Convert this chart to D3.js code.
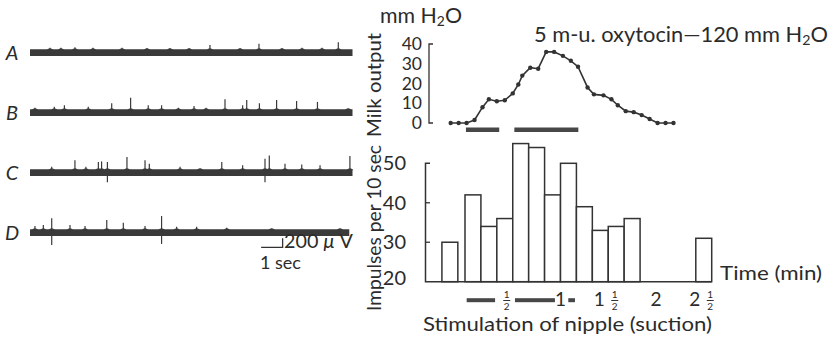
<!DOCTYPE html>
<html>
<head>
<meta charset="utf-8">
<script src="https://cdn.jsdelivr.net/npm/d3@7"></script>
<style>
  html, body { margin: 0; padding: 0; background: #fff; }
  svg { display: block; }
  text { font-family: Lato, "Open Sans", sans-serif; fill: #2b2b2b; }
</style>
</head>
<body>
<svg id="chart" width="833" height="339"></svg>
<script>
// ---------------- DATA ----------------
// Nerve recordings A-D: spikes as [time (s), upward amplitude (µV), downward amplitude (µV)]
const traceNames = ["A", "B", "C", "D"];
const traceDuration = [15, 15, 15, 14.85];
const spikesA = [[0.93,110,0],[1.44,110,0],[2.09,120,0],[2.93,110,0],[4.28,110,0],[5.44,100,0],[6.51,100,0],
  [7.40,100,0],[8.37,170,0],[9.77,100,0],[10.65,200,0],[11.72,100,0],[12.65,110,0],[13.58,110,0],[14.34,230,0]];
const spikesB = [[0.23,110,0],[1.13,135,0],[1.60,165,0],[2.71,135,0],[3.80,210,0],[4.68,335,0],[5.50,165,0],
  [6.12,165,0],[6.90,110,0],[7.63,150,0],[8.19,110,0],[9.07,300,0],[9.89,165,0],[10.08,285,0],[10.67,210,0],
  [11.47,285,0],[12.40,260,0],[13.37,240,0],[14.80,90,0]];
const spikesC = [[1.01,130,0],[2.09,275,0],[2.60,130,0],[3.18,240,0],[3.33,250,0],[3.60,240,210],[4.51,350,0],
  [5.35,275,0],[5.55,200,0],[6.98,130,0],[7.91,90,0],[8.92,240,0],[9.89,165,0],[10.93,310,210],[11.13,385,0],
  [11.86,200,0],[12.64,180,0],[13.49,165,0],[14.88,370,0]];
const spikesD = [[0.23,150,0],[0.62,170,0],[1.01,320,275],[1.86,170,0],[2.56,150,0],[3.57,285,0],[4.34,220,0],
  [5.35,150,0],[6.12,370,250],[6.82,130,0],[7.75,130,0],[9.15,110,0],[11.24,90,0],[14.42,90,0]];
const traceSpikes = [spikesA, spikesB, spikesC, spikesD];

// Milk output (mm H2O) vs time (s)
const milkTime  = [-9,-4,1,6,11,15,20,25,30,33.5,36,41,46,51,56,61.5,66.5,71,77,81,87,92,96,101,106,111,116,121,126,131];
const milkValue = [0,0,0,1.5,8,12,11,11.5,15,19.5,24,28,27.5,36,36,34,31.5,28.5,18,14.5,14,12,9,6,5.5,4,2,0,0,0];
const milkTicks = [0, 10, 20, 30, 40];

// Impulses per 10 sec histogram: bin start (s), count
const binStart = [-14.5,0,10,20,30,40,50,60,70,80,90,100,145];
const impulses = [30,42,34,36,55,54,42,50,39,33,34,36,31];
const binWidth = 10;
const impulseTicks = [20, 30, 40, 50];
const timeTicks = [0.5, 1, 1.5, 2, 2.5]; // minutes

// Stimulation (suction) periods, seconds
const stimTop = [[0.6, 21.5], [31, 71.2]];
const stimBottom = [[1.05, 18.9], [31.4, 56.5], [64.9, 69.1]];

// ---------------- DRAW ----------------
const svg = d3.select("#chart");
const ink = "#333";

const x = d3.scaleLinear().domain([0, 60]).range([465, 560.5]);
const yMilk = d3.scaleLinear().domain([0, 40]).range([123, 44]);
const yImp = d3.scaleLinear().domain([20, 50]).range([281.7, 163.3]);

function fitLen(sel, w) {
  sel.attr("textLength", w).attr("lengthAdjust", "spacingAndGlyphs");
}
function fitSize(sel, w) {
  const n = sel.node();
  const bw = n.getBBox().width;
  const fs = parseFloat(n.getAttribute("font-size"));
  if (bw > 0) n.setAttribute("font-size", (fs * w / bw).toFixed(2));
}

// ----- Left: traces -----
const xTr = d3.scaleLinear().domain([0, 15]).range([30, 352.5]);
const rowY = d3.scalePoint().domain(traceNames).range([52.7, 232.7]);
const amp = d3.scaleLinear().domain([0, 200]).range([0, 9]);

traceNames.forEach((name, i) => {
  const g = svg.append("g");
  const cy = rowY(name);
  g.append("line")
    .attr("x1", xTr(0)).attr("x2", xTr(traceDuration[i]))
    .attr("y1", cy).attr("y2", cy)
    .attr("stroke", "#3a3a3a").attr("stroke-width", 6.8);
  g.selectAll("line.sp").data(traceSpikes[i]).join("line")
    .attr("class", "sp")
    .attr("x1", d => xTr(d[0])).attr("x2", d => xTr(d[0]))
    .attr("y1", d => cy + Math.max(amp(d[2]), 3))
    .attr("y2", d => cy - amp(d[1]))
    .attr("stroke", "#3a3a3a").attr("stroke-width", 1.2);
  g.selectAll("path.bump").data(traceSpikes[i]).join("path")
    .attr("class", "bump")
    .attr("d", d => { const px = xTr(d[0]); return `M${px-3.5},${cy-2.5} Q${px},${cy-6.5} ${px+3.5},${cy-2.5} Z`; })
    .attr("fill", "#3a3a3a");
  g.append("text")
    .attr("x", 12).attr("y", cy + 7.5)
    .attr("text-anchor", "middle")
    .attr("font-size", 20).attr("font-style", "italic")
    .text(name);
});

// scale bar
svg.append("path")
  .attr("d", `M${xTr(10.75)},247.3 H${xTr(11.75)} V${247.3 - amp(200)}`)
  .attr("fill", "none").attr("stroke", ink).attr("stroke-width", 1.3);
const sbt = svg.append("text").attr("x", 284).attr("y", 248).attr("font-size", 16);
sbt.append("tspan").text("200 ");
sbt.append("tspan").attr("font-style", "italic").text("μ");
sbt.append("tspan").text(" V");
fitSize(sbt, 69);
svg.append("text").attr("x", 260).attr("y", 268.5).attr("font-size", 18).text("1 sec");

// ----- Top right: milk output -----
const gTop = svg.append("g");
gTop.append("path")
  .attr("d", `M433,${yMilk(40)} H429 V${yMilk(0)} H433`)
  .attr("fill", "none").attr("stroke", ink).attr("stroke-width", 1.3);
gTop.selectAll("text.mt").data(milkTicks).join("text")
  .attr("class", "mt")
  .attr("x", 422).attr("y", d => yMilk(d) + 6)
  .attr("text-anchor", "end").attr("font-size", 17.5)
  .text(d => d);

const milkPts = milkTime.map((t, i) => [t, milkValue[i]]);
gTop.append("path")
  .datum(milkPts)
  .attr("d", d3.line().x(d => x(d[0])).y(d => yMilk(d[1])))
  .attr("fill", "none").attr("stroke", ink).attr("stroke-width", 1.6);
gTop.selectAll("circle").data(milkPts).join("circle")
  .attr("cx", d => x(d[0])).attr("cy", d => yMilk(d[1]))
  .attr("r", 2.2).attr("fill", ink);

gTop.selectAll("rect.stim").data(stimTop).join("rect")
  .attr("class", "stim")
  .attr("x", d => x(d[0])).attr("width", d => x(d[1]) - x(d[0]))
  .attr("y", 127.5).attr("height", 4.5)
  .attr("fill", "#474747");

const mmh = svg.append("text").attr("x", 380).attr("y", 23).attr("font-size", 18);
mmh.append("tspan").text("mm H");
mmh.append("tspan").attr("font-size", "0.65em").attr("dy", 3).text("2");
mmh.append("tspan").attr("dy", -3).text("O");
fitSize(mmh, 82);

const oxy = svg.append("text").attr("x", 534).attr("y", 42).attr("font-size", 18);
oxy.append("tspan").text("5 m-u. oxytocin\u2014120 mm H");
oxy.append("tspan").attr("font-size", "0.65em").attr("dy", 3).text("2");
oxy.append("tspan").attr("dy", -3).text("O");
fitSize(oxy, 294);

// ----- Bottom right: histogram -----
const gH = svg.append("g");
gH.selectAll("rect.bar").data(binStart.map((s, i) => [s, impulses[i]])).join("rect")
  .attr("class", "bar")
  .attr("x", d => x(d[0])).attr("width", d => x(d[0] + binWidth) - x(d[0]))
  .attr("y", d => yImp(d[1])).attr("height", d => yImp(20) - yImp(d[1]))
  .attr("fill", "#fff").attr("stroke", ink).attr("stroke-width", 1.5);

gH.append("path")
  .attr("d", `M430,${yImp(50)} H425.5 V${yImp(20)} H${x(binStart[binStart.length - 1] + binWidth)}`)
  .attr("fill", "none").attr("stroke", ink).attr("stroke-width", 1.5);
gH.selectAll("line.it").data(impulseTicks.filter(d => d > 20 && d < 50)).join("line")
  .attr("class", "it")
  .attr("x1", 425.5).attr("x2", 430).attr("y1", d => yImp(d)).attr("y2", d => yImp(d))
  .attr("stroke", ink).attr("stroke-width", 1.3);
gH.selectAll("text.il").data(impulseTicks).join("text")
  .attr("class", "il")
  .attr("x", 406).attr("y", d => yImp(d) + 7 - (d === 20 ? 4 : 0))
  .attr("text-anchor", "end").attr("font-size", 20)
  .text(d => d);

gH.selectAll("rect.stim").data(stimBottom).join("rect")
  .attr("class", "stim")
  .attr("x", d => x(d[0])).attr("width", d => x(d[1]) - x(d[0]))
  .attr("y", 298.2).attr("height", 4)
  .attr("fill", "#474747");

// time tick labels with stacked fractions
timeTicks.forEach(v => {
  const cx = x(v * 60);
  const whole = Math.floor(v);
  const half = v - whole > 0;
  const g = gH.append("g");
  if (!half) {
    g.append("text").attr("x", cx).attr("y", 305.5).attr("text-anchor", "middle")
      .attr("font-size", 19).text(whole);
    return;
  }
  let fx;
  if (whole > 0) {
    g.append("text").attr("x", cx - 3.5).attr("y", 305.5).attr("text-anchor", "end")
      .attr("font-size", 19).text(whole);
    fx = cx + 6.5;
  } else {
    fx = cx - 6;
  }
  const fr = g.append("text").attr("text-anchor", "middle").attr("font-size", 10);
  fr.append("tspan").attr("x", fx).attr("y", 298.3).text("1");
  fr.append("tspan").attr("x", fx).attr("y", 309.8).text("2");
  g.append("line").attr("x1", fx - 3.5).attr("x2", fx + 3.5).attr("y1", 300.5).attr("y2", 300.5)
    .attr("stroke", ink).attr("stroke-width", 1);
});

svg.append("text").attr("x", 720).attr("y", 280).attr("font-size", 19).text("Time (min)")
  .call(fitLen, 102);
svg.append("text").attr("x", 423).attr("y", 331).attr("font-size", 19).text("Stimulation of nipple (suction)")
  .call(fitLen, 289);

// rotated y labels
svg.append("text")
  .attr("transform", "translate(381,228) rotate(-90)")
  .attr("text-anchor", "middle").attr("font-size", 18.5).text("Impulses per 10 sec")
  .call(fitLen, 166);
svg.append("text")
  .attr("transform", "translate(381,85) rotate(-90)")
  .attr("text-anchor", "middle").attr("font-size", 18.5).text("Milk output")
  .call(fitLen, 104);
</script>
</body>
</html>
